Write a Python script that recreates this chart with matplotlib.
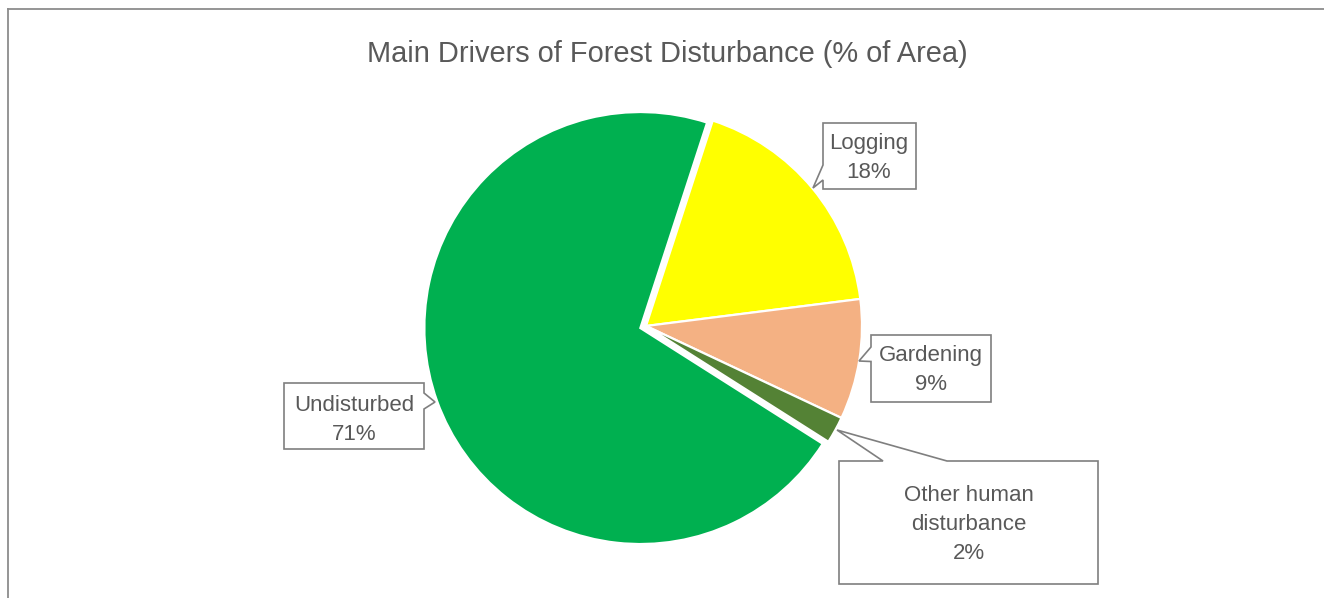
import matplotlib
matplotlib.use("Agg")
import matplotlib.pyplot as plt
from matplotlib.patches import Polygon
from matplotlib.lines import Line2D

# ---- data ----
categories = ["Logging", "Gardening", "Other human\ndisturbance", "Undisturbed"]
values = [18, 9, 2, 71]
colors = ["#FFFF00", "#F4B183", "#548235", "#00B050"]
title = "Main Drivers of Forest Disturbance (% of Area)"

W, H = 1324, 598
fig = plt.figure(figsize=(W / 100, H / 100), dpi=100)
ax = fig.add_axes([0, 0, 1, 1])

def Y(py):
    return H - py

FONT = ["Liberation Sans", "DejaVu Sans"]
TXT = "#595959"

radius = 216
center = (646, Y(326))
explode = [0, 0, 0, 6]
wedges, _ = ax.pie(values, colors=colors, startangle=72, counterclock=False,
                   radius=radius, center=center, explode=explode,
                   wedgeprops=dict(edgecolor="white", linewidth=1.6))
ax.set_xlim(0, W)
ax.set_ylim(0, H)
ax.set_aspect("equal")
ax.axis("off")

# chart frame (top and left visible)
fig.add_artist(Line2D([8 / W, 8 / W], [0, 1 - 9 / H], transform=fig.transFigure,
                      color="#8c8c8c", lw=1.3))
fig.add_artist(Line2D([8 / W, 1], [1 - 9 / H, 1 - 9 / H], transform=fig.transFigure,
                      color="#8c8c8c", lw=1.3))

ax.text(667, Y(54.5), title, ha="center", va="center", fontsize=20.9,
        color=TXT, family=FONT)

def callout(verts):
    poly = Polygon([(x, Y(y)) for x, y in verts], closed=True, facecolor="white",
                   edgecolor="#7f7f7f", linewidth=1.2, zorder=5)
    ax.add_patch(poly)

# Logging (pointer on left side)
l, t, r, b = 823, 123, 916, 189
callout([(l, t), (r, t), (r, b), (l, b), (l, 180), (813, 188), (l, 165)])
# Gardening (pointer on left side)
l, t, r, b = 871, 335, 991, 402
callout([(l, t), (r, t), (r, b), (l, b), (l, 361.5), (859, 361), (l, 347)])
# Undisturbed (pointer on right side)
l, t, r, b = 284, 383, 424, 449
callout([(l, t), (r, t), (r, 393), (435, 402), (r, 409), (r, b), (l, b)])
# Other (pointer on top side)
l, t, r, b = 839, 461, 1098, 584
callout([(l, t), (883, t), (837, 430), (947, t), (r, t), (r, b), (l, b)])

label_pos = [(869, 158.5), (931, 370), (969, 524.5), (354, 420)]
for cat, v, (x, y) in zip(categories, values, label_pos):
    ax.text(x, Y(y), f"{cat}\n{v}%", ha="center", va="center", fontsize=16,
            color=TXT, family=FONT, linespacing=1.5, zorder=6)

fig.savefig("out.png", dpi=100, facecolor="white")
